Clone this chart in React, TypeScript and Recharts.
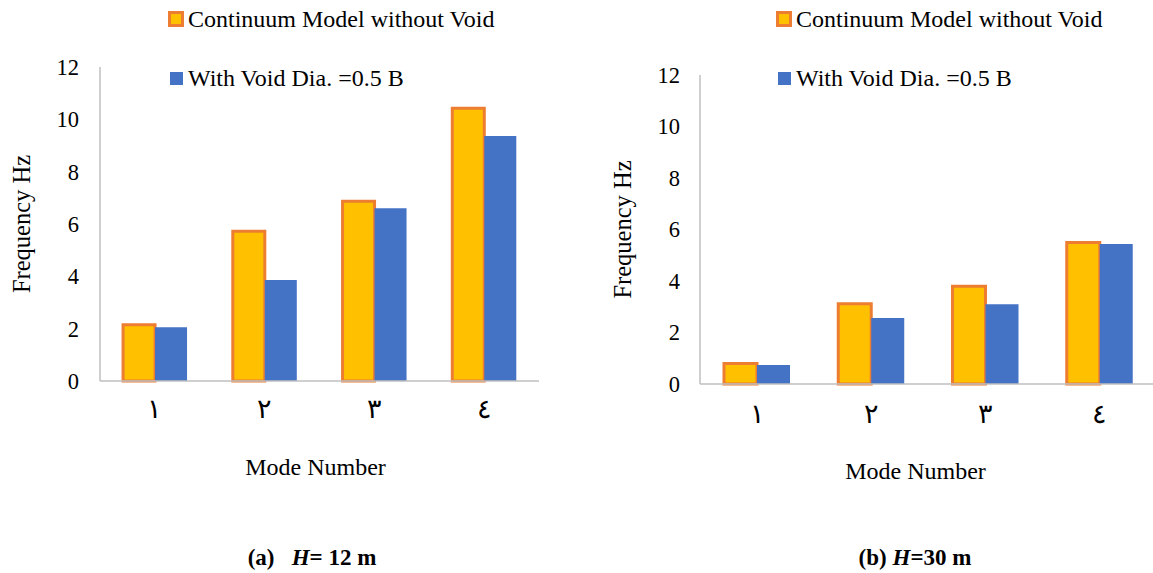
import { Bar, BarChart, Legend, XAxis, YAxis } from "recharts";

const modes = ["١", "٢", "٣", "٤"];
const h12Continuum = [2.15, 5.72, 6.87, 10.42];
const h12Void = [2.05, 3.86, 6.6, 9.36];
const h30Continuum = [0.8, 3.12, 3.8, 5.5];
const h30Void = [0.74, 2.56, 3.1, 5.44];
const yTicks = [0, 2, 4, 6, 8, 10, 12];

const SERIF = "'Liberation Serif', 'Times New Roman', serif";
const ORANGE = "#ED7D31";
const YELLOW = "#FFC000";
const BLUE = "#4472C4";
const AXIS = "#BFBFBF";

const toRows = (a: number[], b: number[]) =>
  modes.map((mode, i) => ({ mode, continuum: a[i], withVoid: b[i] }));

function LegendBox(props: any) {
  const items = props.payload || [];
  return (
    <div style={{ fontFamily: SERIF, fontSize: 24, color: "#000" }}>
      {items.map((it: any, i: number) => (
        <div
          key={it.value}
          style={{
            display: "flex",
            alignItems: "center",
            height: 26,
            marginTop: i === 0 ? 6 : 33,
            whiteSpace: "nowrap",
          }}
        >
          <div
            style={{
              width: 16,
              height: 16,
              marginRight: 4,
              display: "flex",
              alignItems: "center",
              justifyContent: "center",
            }}
          >
            {i === 0 ? (
              <div
                style={{
                  width: 10,
                  height: 10,
                  background: YELLOW,
                  border: `3px solid ${ORANGE}`,
                }}
              />
            ) : (
              <div style={{ width: 13, height: 13, background: BLUE }} />
            )}
          </div>
          <span>{it.value}</span>
        </div>
      ))}
    </div>
  );
}

type PanelProps = {
  rows: { mode: string; continuum: number; withVoid: number }[];
  left: number;
  width: number;
  top: number;
  right: number;
  bottom: number;
  axisWidth: number;
  yTickMargin: number;
  xTickMargin: number;
  titleOffset: number;
  legendLeft: number;
  xLabelOffset: number;
  xLabelDx: number;
};

function Panel(p: PanelProps) {
  return (
    <div style={{ position: "absolute", left: p.left, top: 0 }}>
      <BarChart
        width={p.width}
        height={573}
        data={p.rows}
        margin={{ top: p.top, right: p.right, left: 0, bottom: p.bottom }}
        barGap={0}
        barCategoryGap="21%"
      >
        <XAxis
          dataKey="mode"
          height={100}
          interval={0}
          tickLine={false}
          tickMargin={p.xTickMargin}
          axisLine={{ stroke: AXIS, strokeWidth: 1.5 }}
          tick={{ fontSize: 27, fill: "#000", fontFamily: SERIF }}
          label={{
            value: "Mode Number",
            position: "insideBottom",
            offset: p.xLabelOffset,
            dx: p.xLabelDx,
            style: { fontSize: 24, fill: "#000", fontFamily: SERIF },
          }}
        />
        <YAxis
          domain={[0, 12]}
          ticks={yTicks}
          width={p.axisWidth}
          tickLine={false}
          tickMargin={p.yTickMargin}
          axisLine={{ stroke: AXIS, strokeWidth: 1.5 }}
          tick={{ fontSize: 22.5, fill: "#000", fontFamily: SERIF }}
          label={{
            value: "Frequency Hz",
            angle: -90,
            position: "insideLeft",
            offset: p.titleOffset,
            style: {
              textAnchor: "middle",
              fontSize: 24.5,
              fill: "#000",
              fontFamily: SERIF,
            },
          }}
        />
        <Legend
          layout="vertical"
          align="center"
          verticalAlign="middle"
          content={<LegendBox />}
          wrapperStyle={{ top: 0, left: p.legendLeft, width: 380 }}
        />
        <Bar
          dataKey="continuum"
          name="Continuum Model without Void"
          fill={YELLOW}
          stroke={ORANGE}
          strokeWidth={3}
          isAnimationActive={false}
        />
        <Bar
          dataKey="withVoid"
          name="With Void Dia. =0.5 B"
          fill={BLUE}
          isAnimationActive={false}
        />
      </BarChart>
    </div>
  );
}

const captionStyle = {
  position: "absolute" as const,
  top: 545,
  fontFamily: SERIF,
  fontWeight: "bold" as const,
  fontSize: 23,
  lineHeight: "26px",
  whiteSpace: "pre" as const,
  transform: "translateX(-50%)",
};

export default function App() {
  return (
    <div
      style={{
        position: "absolute",
        left: 0,
        top: 0,
        width: 1153,
        height: 573,
        overflow: "hidden",
        background: "#fff",
      }}
    >
      <Panel
        rows={toRows(h12Continuum, h12Void)}
        left={0}
        width={560}
        top={67}
        right={21}
        bottom={92}
        axisWidth={100}
        yTickMargin={15}
        xTickMargin={12}
        titleOffset={21}
        legendLeft={168}
        xLabelOffset={6}
        xLabelDx={-4}
      />
      <Panel
        rows={toRows(h30Continuum, h30Void)}
        left={580}
        width={580}
        top={75}
        right={3}
        bottom={89}
        axisWidth={120}
        yTickMargin={14}
        xTickMargin={14}
        titleOffset={42}
        legendLeft={196}
        xLabelOffset={5}
        xLabelDx={-13}
      />
      <div style={{ ...captionStyle, left: 312 }}>
        (a)   <i>H</i>= 12 m
      </div>
      <div style={{ ...captionStyle, left: 915 }}>
        (b) <i>H</i>=30 m
      </div>
    </div>
  );
}
